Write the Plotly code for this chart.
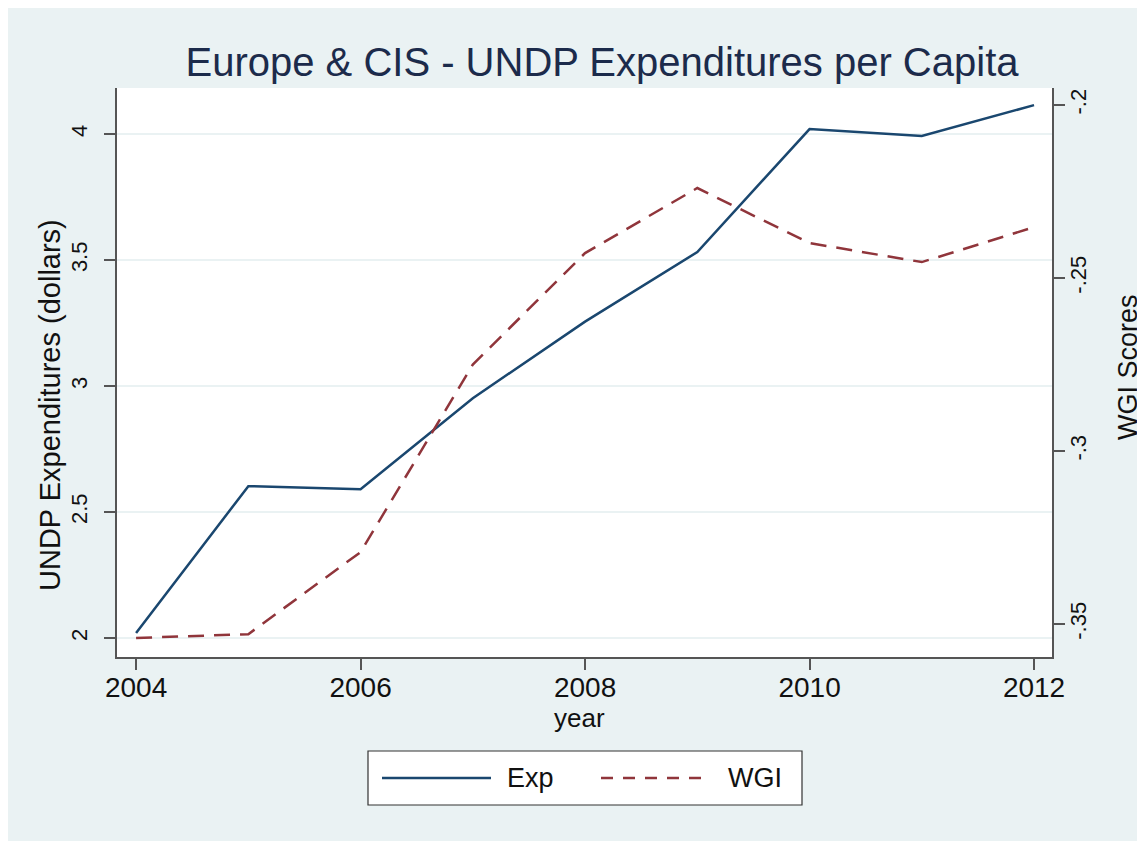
import plotly.graph_objects as go

years = [2004, 2005, 2006, 2007, 2008, 2009, 2010, 2011, 2012]
exp_values = [2.02, 2.603, 2.591, 2.952, 3.256, 3.532, 4.02, 3.993, 4.115]
wgi_values = [-0.354, -0.3529, -0.3292, -0.275, -0.2428, -0.224, -0.2399, -0.2454, -0.2353]

x_ticks = [2004, 2006, 2008, 2010, 2012]
y_ticks = [2, 2.5, 3, 3.5, 4]
y_tick_labels = ["2", "2.5", "3", "3.5", "4"]
y2_ticks = [-0.35, -0.3, -0.25, -0.2]
y2_tick_labels = ["-.35", "-.3", "-.25", "-.2"]

title_text = "Europe & CIS - UNDP Expenditures per Capita"
series_names = ["Exp", "WGI"]

BG = "#eaf2f3"
EXP_COLOR = "#1a476f"
WGI_COLOR = "#90353b"
AXIS_COLOR = "#555555"
FONT = "Liberation Sans, Arial, Helvetica, sans-serif"

# page body margin offsets the figure by 8px
OX, OY = 8, 8
W, H = 1145 - OX, 841 - OY
# plot area in page pixels
L, R, T, B = 117, 1052, 88, 657
PW, PH = R - L, B - T


def px(x):
    return (x - L) / PW


def py(y):
    return (B - y) / PH


fig = go.Figure()
fig.add_trace(go.Scatter(x=years, y=exp_values, name=series_names[0], mode="lines",
                         line=dict(color=EXP_COLOR, width=2.5), showlegend=False))
fig.add_trace(go.Scatter(x=years, y=wgi_values, name=series_names[1], mode="lines", yaxis="y2",
                         line=dict(color=WGI_COLOR, width=2.5, dash="16px,10px"), showlegend=False))

shapes = [
    # plot region
    dict(type="rect", xref="paper", yref="paper", x0=0, x1=1, y0=0, y1=1,
         fillcolor="white", line=dict(width=0), layer="below"),
    # legend box
    dict(type="rect", xref="paper", yref="paper", x0=px(368), x1=px(802), y0=py(805), y1=py(751),
         fillcolor="white", line=dict(color="#333333", width=1.2)),
    dict(type="line", xref="paper", yref="paper", x0=px(382), x1=px(491), y0=py(778), y1=py(778),
         line=dict(color=EXP_COLOR, width=2.5)),
    dict(type="line", xref="paper", yref="paper", x0=px(601), x1=px(711), y0=py(778), y1=py(778),
         line=dict(color=WGI_COLOR, width=2.5, dash="12px,10px")),
]

annotations = [
    dict(text=series_names[0], xref="paper", yref="paper", x=px(505), y=py(778), xanchor="left",
         yanchor="middle", showarrow=False, font=dict(family=FONT, size=27, color="#111111")),
    dict(text=series_names[1], xref="paper", yref="paper", x=px(726), y=py(778), xanchor="left",
         yanchor="middle", showarrow=False, font=dict(family=FONT, size=27, color="#111111")),
    dict(text="year", xref="paper", yref="paper", x=px(579), y=py(718), xanchor="center",
         yanchor="middle", showarrow=False, font=dict(family=FONT, size=26, color="#111111")),
    dict(text="UNDP Expenditures (dollars)", xref="paper", yref="paper", x=px(50), y=py(405),
         xanchor="center", yanchor="middle", textangle=-90, showarrow=False,
         font=dict(family=FONT, size=29, color="#111111")),
    dict(text="WGI Scores", xref="paper", yref="paper", x=px(1128), y=py(367),
         xanchor="center", yanchor="middle", textangle=-90, showarrow=False,
         font=dict(family=FONT, size=27, color="#111111")),
]

fig.update_layout(
    width=W, height=H, autosize=False,
    margin=dict(l=L - OX, r=1145 - R, t=T - OY, b=841 - B, pad=0),
    paper_bgcolor=BG,
    plot_bgcolor="white",
    title=dict(text=title_text, x=(602 - OX) / W, xref="container", xanchor="center",
               y=1 - (62 - OY) / H, yref="container", yanchor="middle",
               font=dict(family=FONT, size=40, color="#1c2b4b")),
    showlegend=False,
    shapes=shapes,
    annotations=annotations,
    xaxis=dict(range=[2003.83, 2012.16], tickvals=x_ticks, ticktext=[str(v) for v in x_ticks],
               showgrid=False, zeroline=False, showline=True, linecolor=AXIS_COLOR, linewidth=1.5,
               ticks="outside", ticklen=11, tickwidth=1.5, tickcolor=AXIS_COLOR,
               tickfont=dict(family=FONT, size=28, color="#111111"), ticklabelstandoff=-6),
    yaxis=dict(range=[1.925, 4.183], tickvals=y_ticks, ticktext=y_tick_labels,
               showgrid=True, gridcolor=BG, gridwidth=1.5, zeroline=False,
               showline=True, linecolor=AXIS_COLOR, linewidth=1.5,
               ticks="outside", ticklen=11, tickwidth=1.5, tickcolor=AXIS_COLOR, tickangle=-90,
               tickfont=dict(family=FONT, size=22, color="#111111"), ticklabelstandoff=8),
    yaxis2=dict(range=[-0.3595, -0.1951], tickvals=y2_ticks, ticktext=y2_tick_labels,
                overlaying="y", side="right", showgrid=False, zeroline=False,
                showline=True, linecolor=AXIS_COLOR, linewidth=1.5,
                ticks="outside", ticklen=11, tickwidth=1.5, tickcolor=AXIS_COLOR, tickangle=-90,
                tickfont=dict(family=FONT, size=22, color="#111111"), ticklabelstandoff=-5),
)

fig.write_html("out.html")
